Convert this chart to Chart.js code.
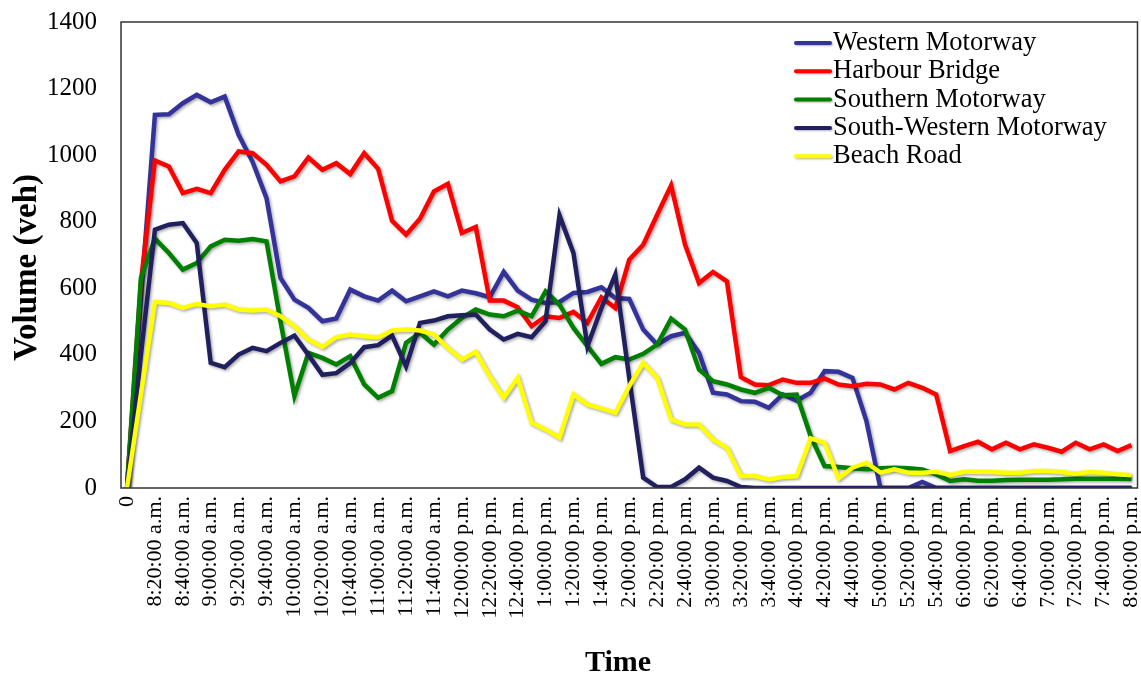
<!DOCTYPE html>
<html>
<head>
<meta charset="utf-8">
<script src="https://cdn.jsdelivr.net/npm/chart.js@4.4.1/dist/chart.umd.min.js"></script>
<style>
  html, body { margin: 0; padding: 0; background: #ffffff; }
  #wrap { width: 1141px; height: 679px; }
</style>
</head>
<body>
<div id="wrap"><canvas id="volumeChart" width="1141" height="679"></canvas></div>
<script>
// Time axis: "0" then every 10 minutes from 8:10 a.m. to 8:00 p.m. (only every other one is labelled)
const timeLabels = [
    '0',
    '8:10:00 a.m.', '8:20:00 a.m.', '8:30:00 a.m.', '8:40:00 a.m.', '8:50:00 a.m.',
    '9:00:00 a.m.', '9:10:00 a.m.', '9:20:00 a.m.', '9:30:00 a.m.', '9:40:00 a.m.', '9:50:00 a.m.',
    '10:00:00 a.m.', '10:10:00 a.m.', '10:20:00 a.m.', '10:30:00 a.m.', '10:40:00 a.m.', '10:50:00 a.m.',
    '11:00:00 a.m.', '11:10:00 a.m.', '11:20:00 a.m.', '11:30:00 a.m.', '11:40:00 a.m.', '11:50:00 a.m.',
    '12:00:00 p.m.', '12:10:00 p.m.', '12:20:00 p.m.', '12:30:00 p.m.', '12:40:00 p.m.', '12:50:00 p.m.',
    '1:00:00 p.m.', '1:10:00 p.m.', '1:20:00 p.m.', '1:30:00 p.m.', '1:40:00 p.m.', '1:50:00 p.m.',
    '2:00:00 p.m.', '2:10:00 p.m.', '2:20:00 p.m.', '2:30:00 p.m.', '2:40:00 p.m.', '2:50:00 p.m.',
    '3:00:00 p.m.', '3:10:00 p.m.', '3:20:00 p.m.', '3:30:00 p.m.', '3:40:00 p.m.', '3:50:00 p.m.',
    '4:00:00 p.m.', '4:10:00 p.m.', '4:20:00 p.m.', '4:30:00 p.m.', '4:40:00 p.m.', '4:50:00 p.m.',
    '5:00:00 p.m.', '5:10:00 p.m.', '5:20:00 p.m.', '5:30:00 p.m.', '5:40:00 p.m.', '5:50:00 p.m.',
    '6:00:00 p.m.', '6:10:00 p.m.', '6:20:00 p.m.', '6:30:00 p.m.', '6:40:00 p.m.', '6:50:00 p.m.',
    '7:00:00 p.m.', '7:10:00 p.m.', '7:20:00 p.m.', '7:30:00 p.m.', '7:40:00 p.m.', '7:50:00 p.m.',
    '8:00:00 p.m.'
];

const yTicks = [0, 200, 400, 600, 800, 1000, 1200, 1400];

const westernMotorway = [
    0, 571, 1121, 1123, 1156, 1181, 1159, 1176, 1061, 980, 871, 631,
    566, 541, 501, 509, 596, 576, 563, 593, 561, 576, 591, 576,
    593, 585, 573, 649, 593, 566, 556, 559, 586, 589, 603, 571,
    568, 476, 431, 456, 466, 406, 286, 281, 261, 259, 241, 281,
    262, 286, 351, 349, 331, 201, 0, 0, 0, 18, 0, 0,
    0, 0, 0, 0, 0, 0, 0, 0, 0, 0, 0, 0, 0
];

const harbourBridge = [
    0, 620, 984, 966, 886, 899, 886, 956, 1011, 1006, 971, 921,
    936, 993, 956, 976, 943, 1006, 959, 803, 761, 809, 891, 914,
    766, 784, 563, 563, 543, 486, 516, 511, 529, 496, 573, 541,
    686, 731, 821, 909, 731, 616, 649, 621, 333, 311, 309, 326,
    316, 316, 329, 311, 306, 313, 311, 296, 316, 301, 281, 111,
    126, 139, 116, 136, 116, 131, 121, 109, 136, 116, 131, 111, 129
];

const southernMotorway = [
    0, 631, 749, 706, 656, 676, 726, 746, 743, 748, 741, 501,
    276, 406, 391, 371, 396, 311, 271, 291, 436, 466, 431, 476,
    511, 536, 521, 516, 533, 516, 591, 551, 481, 426, 373, 393,
    386, 403, 431, 509, 476, 356, 321, 311, 296, 286, 301, 279,
    281, 156, 66, 63, 59, 56, 59, 61, 59, 56, 41, 21,
    26, 22, 22, 24, 25, 25, 25, 26, 28, 28, 28, 28, 27
];

const southWesternMotorway = [
    0, 400, 776, 791, 796, 736, 376, 363, 401, 421, 411, 436,
    458, 400, 340, 345, 375, 423, 429, 458, 365, 496, 503, 516,
    519, 521, 476, 446, 463, 453, 501, 819, 706, 426, 540, 641,
    330, 31, 3, 3, 26, 61, 31, 21, 3, 0, 0, 0,
    0, 0, 0, 0, 0, 0, 0, 0, 0, 0, 0, 0,
    0, 0, 0, 0, 0, 0, 0, 0, 0, 0, 0, 0, 0
];

const beachRoad = [
    0, 283, 559, 556, 541, 553, 546, 551, 536, 533, 536, 516,
    486, 446, 424, 453, 461, 456, 453, 473, 476, 473, 461, 421,
    386, 409, 335, 271, 331, 196, 176, 151, 281, 251, 239, 226,
    306, 376, 331, 206, 191, 191, 146, 121, 36, 36, 26, 33,
    36, 149, 136, 29, 61, 76, 46, 56, 46, 46, 49, 39,
    49, 49, 48, 46, 46, 51, 51, 48, 43, 48, 46, 41, 38
];

const seriesNames = ['Western Motorway', 'Harbour Bridge', 'Southern Motorway', 'South-Western Motorway', 'Beach Road'];
const seriesColors = ['#33339a', '#ff0000', '#008000', '#20205e', '#ffff00'];
const seriesData = [westernMotorway, harbourBridge, southernMotorway, southWesternMotorway, beachRoad];

const serif = "'Liberation Serif', 'Times New Roman', serif";

// soft drop shadow under the lines, like the original office chart
const lineShadow = {
    id: 'lineShadow',
    beforeDatasetDraw(chart) {
        const c = chart.ctx;
        c.save();
        c.shadowColor = 'rgba(0,0,0,0.35)';
        c.shadowBlur = 3;
        c.shadowOffsetX = 1.5;
        c.shadowOffsetY = 1.5;
    },
    afterDatasetDraw(chart) {
        chart.ctx.restore();
    }
};

// plot frame + legend inside the plot (top right)
const frameAndLegend = {
    id: 'frameAndLegend',
    afterDraw(chart) {
        const c = chart.ctx;
        const a = chart.chartArea;
        c.save();
        c.strokeStyle = '#333333';
        c.lineWidth = 1.5;
        c.strokeRect(a.left - 6, a.top, (a.right - a.left) + 12, a.bottom - a.top);

        c.font = '26.5px ' + serif;
        c.textBaseline = 'middle';
        c.textAlign = 'left';
        chart.data.datasets.forEach((ds, i) => {
            const y = 43 + i * 28.3;
            c.shadowColor = 'rgba(0,0,0,0.3)';
            c.shadowBlur = 2;
            c.shadowOffsetX = 1;
            c.shadowOffsetY = 1;
            c.strokeStyle = ds.borderColor;
            c.lineWidth = 4;
            c.lineCap = 'round';
            c.beginPath();
            c.moveTo(796, y);
            c.lineTo(830, y);
            c.stroke();
            c.shadowColor = 'transparent';
            c.fillStyle = '#000000';
            c.fillText(ds.label, 833, y);
        });
        c.restore();
    }
};

// fixed axis boxes, no automatic label padding
function fixBox(size) {
    return function(scale) {
        if (scale.isHorizontal()) scale.height = size; else scale.width = size;
        scale.paddingLeft = 0;
        scale.paddingRight = 0;
        scale.paddingTop = 0;
        scale.paddingBottom = 0;
    };
}

const ctx = document.getElementById('volumeChart');

new Chart(ctx, {
    type: 'line',
    data: {
        labels: timeLabels,
        datasets: seriesData.map((vals, i) => ({
            label: seriesNames[i],
            data: vals,
            borderColor: seriesColors[i],
            backgroundColor: seriesColors[i],
            borderWidth: 4.5,
            pointRadius: 0,
            tension: 0,
            fill: false,
            order: seriesData.length - i // later series on top, as in the original
        }))
    },
    options: {
        responsive: false,
        animation: false,
        devicePixelRatio: 1,
        layout: { autoPadding: false, padding: { top: 22, right: 9.5, left: 0, bottom: 0 } },
        plugins: {
            legend: { display: false },
            tooltip: { enabled: false }
        },
        scales: {
            x: {
                type: 'category',
                offset: false,
                grid: { display: false, drawTicks: false },
                border: { display: false },
                ticks: {
                    autoSkip: false,
                    maxRotation: 90,
                    minRotation: 90,
                    padding: 8,
                    color: '#000000',
                    font: { family: serif, size: 22 },
                    callback: function(value, index) {
                        return index % 2 === 0 ? timeLabels[index] : '';
                    }
                },
                title: {
                    display: true,
                    // trailing spaces nudge the title a little left, as in the original
                    text: 'Time\u00a0\u00a0\u00a0',
                    color: '#000000',
                    font: { family: serif, size: 30, weight: 'bold', lineHeight: 1 },
                    padding: { top: 0, bottom: 1 }
                },
                afterFit: fixBox(191)
            },
            y: {
                min: 0,
                max: 1400,
                grid: { display: false, drawTicks: false },
                border: { display: false },
                afterBuildTicks: function(scale) {
                    scale.ticks = yTicks.map(v => ({ value: v }));
                },
                ticks: {
                    padding: 30,
                    color: '#000000',
                    font: { family: serif, size: 25 },
                    callback: function(value) { return String(value); }
                },
                title: {
                    display: true,
                    text: 'Volume (veh)\u00a0\u00a0\u00a0',
                    color: '#000000',
                    font: { family: serif, size: 33, weight: 'bold', lineHeight: 1 },
                    padding: { top: 11, bottom: 0 }
                },
                afterFit: fixBox(127)
            }
        }
    },
    plugins: [lineShadow, frameAndLegend]
});
</script>
</body>
</html>
